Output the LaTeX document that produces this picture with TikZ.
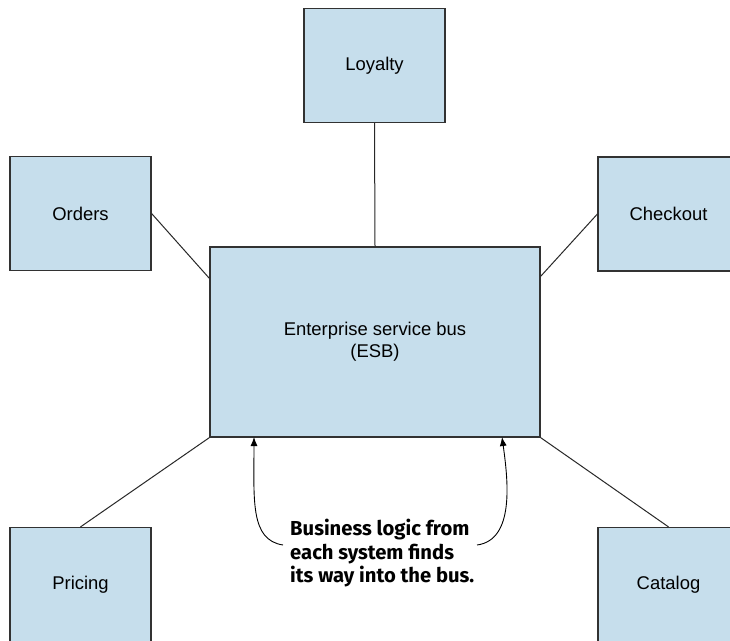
\documentclass[tikz,border=0pt]{standalone}
\usepackage{fontspec}
\setmainfont{Liberation Sans}
\newfontfamily\notefont{Fira Sans}
\usetikzlibrary{arrows.meta}
\definecolor{boxfill}{RGB}{198,222,236}
\definecolor{boxline}{RGB}{50,50,50}
\definecolor{linkline}{RGB}{40,40,40}
\tikzset{
  system/.style={draw=boxline, fill=boxfill, line width=1.2bp, rectangle,
    minimum width=141bp, minimum height=114bp, inner sep=0pt,
    font=\fontsize{18.5}{22}\selectfont, align=center},
  link/.style={draw=linkline, line width=1bp},
  callout/.style={draw=black, line width=0.9bp, -{Latex[length=9bp,width=7bp]}},
}
\begin{document}
\begin{tikzpicture}[x=1bp, y=-1bp]
  \clip (0,0) rectangle (730,641);
  \fill[white] (0,0) rectangle (730,641);

  % central bus and surrounding systems
  \node[system, minimum width=330bp, minimum height=190bp] (esb) at (375,342)
    {Enterprise service bus\\(ESB)};
  \node[system] (loyalty)  at (374.5,65.5) {Loyalty};
  \node[system] (orders)   at (80.5,213.5) {Orders};
  \node[system] (checkout) at (668.5,214)  {Checkout};
  \node[system] (pricing)  at (80.5,584.5) {Pricing};
  \node[system] (catalog)  at (668.5,584.5) {Catalog};

  % connections to the bus
  \draw[link] (loyalty.south) -- (esb.north);
  \draw[link] (orders.east) -- ([yshift=-32bp]esb.north west);
  \draw[link] (checkout.west) -- ([yshift=-30bp]esb.north east);
  \draw[link] (pricing.north) -- (esb.south west);
  \draw[link] (catalog.north) -- (esb.south east);

  % annotation
  \node[anchor=north west, inner sep=0pt, align=left,
        font=\notefont\bfseries\fontsize{20.3}{23.5}\selectfont] (note) at (290,519)
    {Business logic from\\each system finds\\its way into the bus.};
  \coordinate (noteL) at (283,545);
  \coordinate (noteR) at (477,545);
  \coordinate (tipL) at (254,437);
  \coordinate (tipR) at (502,437);
  \draw[callout] (noteL) .. controls (250,540) and (254,500) .. (tipL);
  \draw[callout] (noteR) .. controls (515,540) and (508,480) .. (tipR);
\end{tikzpicture}
\end{document}
